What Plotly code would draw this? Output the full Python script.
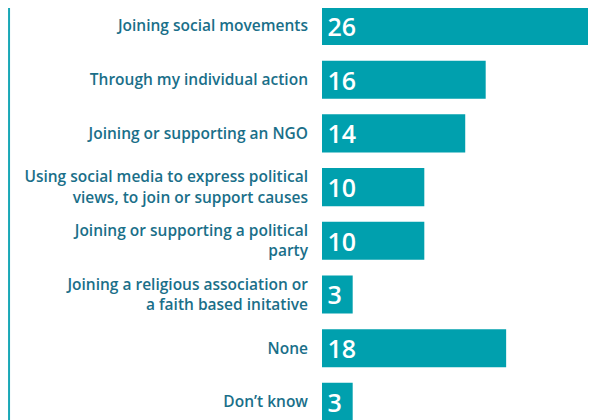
import plotly.graph_objects as go

# survey answers, top to bottom
categories = [
    "Joining social movements",
    "Through my individual action",
    "Joining or supporting an NGO",
    "Using social media to express political<br>views, to join or support causes",
    "Joining or supporting a political<br>party",
    "Joining a religious association or<br>a faith based initative",
    "None",
    "Don’t know",
]
values = [26, 16, 14, 10, 10, 3, 18, 3]

bar_color = "#00A0AE"
label_color = "#1A6F89"

fig = go.Figure()
fig.add_trace(
    go.Bar(
        x=values,
        y=categories,
        orientation="h",
        marker=dict(color=bar_color, line=dict(width=0)),
        text=["\u200a" + str(v) for v in values],
        textposition="inside",
        insidetextanchor="start",
        textangle=0,
        constraintext="none",
        textfont=dict(family="Open Sans", size=25, color="white", weight=600),
        hoverinfo="skip",
    )
)

# thin teal rule on the far left
fig.add_shape(
    type="line",
    xref="paper", yref="paper",
    x0=-1.138, x1=-1.138, y0=0, y1=1,
    line=dict(color="#19A7B6", width=2),
)

# page body has an 8px margin, so the figure is a bit smaller than the window
fig.update_layout(
    width=589,
    height=412,
    margin=dict(l=314, r=0, t=0, b=0),
    paper_bgcolor="white",
    plot_bgcolor="white",
    bargap=0.29,
    showlegend=False,
    font=dict(family="Open Sans"),
)
fig.update_xaxes(visible=False, range=[0, 26.88])
fig.update_yaxes(
    type="category",
    range=[7.337, -0.335],
    showline=False,
    showgrid=False,
    ticks="",
    ticklabelstandoff=13,
    tickfont=dict(family="Open Sans", size=15.5, color=label_color, weight=600),
)

fig.write_html("out.html")
